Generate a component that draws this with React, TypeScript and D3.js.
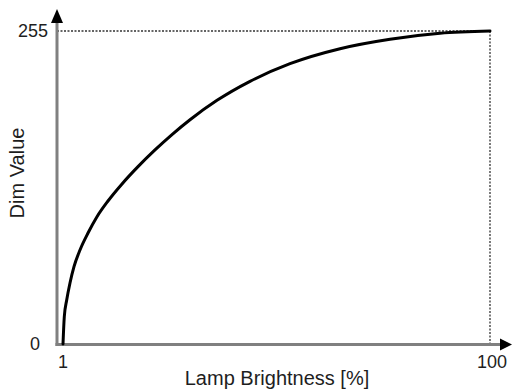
import React from "react";
import * as d3 from "d3";

const brightness = [1, 1.3, 1.86, 2.62, 3.55, 4.94, 6.8, 8.88, 11.43, 14.68, 18.39, 22.33, 26.27, 30.45, 36.71, 44.36, 53.63, 65.23, 76.82, 88.41, 100];
const dimValue = [0, 22.2, 35.8, 49.7, 63, 76.6, 90.4, 103.7, 116.5, 130.4, 144.5, 158.1, 170.6, 182.7, 198.5, 214, 228.4, 240.6, 248.3, 253.2, 255];
const xTicks = [1, 100];
const yTicks = [0, 255];
const xTitle = "Lamp Brightness [%]";
const yTitle = "Dim Value";

export default function App() {
  const W = 512, H = 390;
  const x = d3.scaleLinear().domain([1, 100]).range([63, 490]);
  const y = d3.scaleLinear().domain([0, 255]).range([344, 31]);
  const axisX = 57, axisY = 344.5;
  const pts = brightness.map((b, i) => [x(b), y(dimValue[i])] as [number, number]);
  const line = d3.line().curve(d3.curveMonotoneX)(pts) || "";
  const font = "Liberation Sans, Arial, sans-serif";
  const textColor = "#1e1e1e";
  return (
    <svg width={W} height={H} style={{ position: "absolute", left: 0, top: 0, background: "#fff" }}>
      {/* dotted guides */}
      <line x1={axisX} x2={x(100)} y1={y(255)} y2={y(255)} stroke="#333" strokeWidth={1.3} strokeDasharray="2,1.5" />
      <line x1={x(100)} x2={x(100)} y1={y(255)} y2={axisY} stroke="#333" strokeWidth={1.3} strokeDasharray="2,1.5" />
      {/* axes */}
      <line x1={axisX} x2={axisX} y1={axisY + 1.5} y2={20} stroke="#808080" strokeWidth={3} />
      <line x1={axisX - 1.5} x2={502} y1={axisY} y2={axisY} stroke="#808080" strokeWidth={3} />
      <path d={`M${axisX - 6},23 L${axisX},9 L${axisX + 6},23 Z`} fill="#000" />
      <path d={`M500,${axisY - 6} L512,${axisY} L500,${axisY + 6} Z`} fill="#000" />
      {/* curve */}
      <path d={line} fill="none" stroke="#000" strokeWidth={3} strokeLinecap="round" />
      {/* ticks */}
      {yTicks.map((t) => (
        <text key={"y" + t} x={t === 0 ? 40 : 48} y={t === 0 ? axisY - 1 : y(t)} textAnchor="end" dominantBaseline="central"
          fontFamily={font} fontSize={18} fill={textColor}>{t}</text>
      ))}
      {xTicks.map((t) => (
        <text key={"x" + t} x={t === 100 ? 492 : x(t)} y={362} textAnchor="middle" dominantBaseline="central"
          fontFamily={font} fontSize={18} fill={textColor}>{t}</text>
      ))}
      <text x={277} y={378} textAnchor="middle" dominantBaseline="central" fontFamily={font} fontSize={20} fill={textColor}>{xTitle}</text>
      <text transform="translate(17,173) rotate(-90)" textAnchor="middle" dominantBaseline="central" fontFamily={font} fontSize={20} fill={textColor}>{yTitle}</text>
    </svg>
  );
}
